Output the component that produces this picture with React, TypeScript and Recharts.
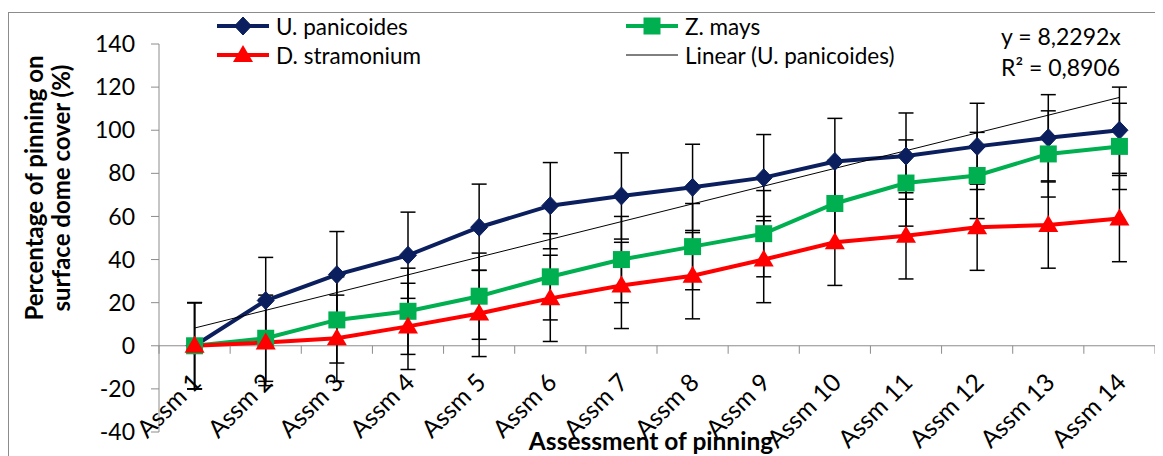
import { ErrorBar, Legend, Line, LineChart, ReferenceLine, XAxis, YAxis } from 'recharts';

const categories = ['Assm 1', 'Assm 2', 'Assm 3', 'Assm 4', 'Assm 5', 'Assm 6', 'Assm 7', 'Assm 8', 'Assm 9', 'Assm 10', 'Assm 11', 'Assm 12', 'Assm 13', 'Assm 14'];
const uPanicoides = [0, 21, 33, 42, 55, 65, 69.5, 73.5, 78, 85.5, 88, 92.5, 96.5, 100];
const zMays = [0, 3.5, 12, 16, 23, 32, 40, 46, 52, 66, 75.5, 79, 89, 92.5];
const dStramonium = [0, 1.5, 3.5, 9, 15, 22, 28, 32.5, 40, 48, 51, 55, 56, 59];
// linear trend of U. panicoides through the origin (y = 8,2292x)
const linearUPan = [8.23, 16.46, 24.69, 32.92, 41.15, 49.38, 57.6, 65.83, 74.06, 82.29, 90.52, 98.75, 106.98, 115.21];
const uPanErr = [20, 20, 20, 20, 20, 20, 20, 20, 20, 20, 20, 20, 20, 20];
const zMaysErr = [20, 20, 20, 20, 20, 20, 20, 20, 20, 20, 20, 20, 20, 20];
const dStramErr = [20, 20, 20, 20, 20, 20, 20, 20, 20, 20, 20, 20, 20, 20];
const yTicks = [-40, -20, 0, 20, 40, 60, 80, 100, 120, 140];
const legendOrder = ['uPan', 'zMays', 'dStram', 'trend'];

const data = categories.map((name, i) => ({
    name,
    uPan: uPanicoides[i],
    zMays: zMays[i],
    dStram: dStramonium[i],
    trend: linearUPan[i],
    uPanErr: uPanErr[i],
    zMaysErr: zMaysErr[i],
    dStramErr: dStramErr[i],
}));

const FONT = 'Lato, "Open Sans", sans-serif';
const NAVY = '#0b1f5e';
const GREEN = '#00b050';
const RED = '#ff0000';
const AXIS = '#8c8c8c';

const W = 1155;
const H = 448;
const M = { top: 36, right: 8, left: 0, bottom: 0 };
const Y_AXIS_W = 151;
const X_AXIS_H = 24;
const PLOT_W = W - M.right - Y_AXIS_W;
const PLOT_H = H - M.top - X_AXIS_H;
const BAND = PLOT_W / categories.length;
const Y_MIN = -40;
const Y_MAX = 140;
const ZERO_UP = (PLOT_H * (0 - Y_MIN)) / (Y_MAX - Y_MIN);

const Diamond = ({ cx, cy, color = NAVY }: any) => (
    <polygon points={`${cx},${cy - 9} ${cx + 8.5},${cy} ${cx},${cy + 9} ${cx - 8.5},${cy}`} fill={color} stroke={color} />
);
const Square = ({ cx, cy, color = GREEN }: any) => <rect x={cx - 8.5} y={cy - 8.5} width={17} height={17} fill={color} />;
const Triangle = ({ cx, cy, color = RED }: any) => (
    <polygon points={`${cx},${cy - 10} ${cx + 10},${cy + 7} ${cx - 10},${cy + 7}`} fill={color} />
);

const XTick = ({ x, y, payload, index }: any) => {
    const y0 = y - ZERO_UP;
    const last = index === categories.length - 1;
    const ax = x + 2;
    const ay = y0 + 32;
    return (
        <g>
            <line x1={x - BAND / 2} x2={x - BAND / 2} y1={y0} y2={y0 + 8} stroke={AXIS} />
            {last && <line x1={x + BAND / 2} x2={x + BAND / 2} y1={y0} y2={y0 + 8} stroke={AXIS} />}
            <text x={ax} y={ay} dy="0.35em" textAnchor="end" transform={`rotate(-45, ${ax}, ${ay})`} fontSize={24.5} fontFamily={FONT} fill="#000">
                {payload.value}
            </text>
        </g>
    );
};

const markers: Record<string, any> = { uPan: Diamond, zMays: Square, dStram: Triangle };

const LegendBox = ({ payload }: any) => {
    const cols = [209, 618];
    const rows = [18, 47];
    const items = [...(payload || [])].sort((a: any, b: any) => legendOrder.indexOf(a.dataKey) - legendOrder.indexOf(b.dataKey));
    return (
        <div style={{ position: 'relative', width: W, height: 70 }}>
            {items.map((entry: any, i: number) => {
                const Marker = markers[entry.dataKey];
                const isTrend = entry.dataKey === 'trend';
                return (
                    <div
                        key={entry.value}
                        style={{
                            position: 'absolute',
                            left: cols[i % 2],
                            top: rows[Math.floor(i / 2)] - 14,
                            height: 28,
                            display: 'flex',
                            alignItems: 'center',
                            whiteSpace: 'nowrap',
                        }}
                    >
                        <svg width={52} height={28} style={{ marginRight: 7 }}>
                            <line x1={0} x2={52} y1={14} y2={14} stroke={entry.color} strokeWidth={isTrend ? 1 : 4} />
                            {Marker && <Marker cx={26} cy={14} color={entry.color} />}
                        </svg>
                        <span style={{ fontFamily: FONT, fontSize: 22.5, color: '#000' }}>{entry.value}</span>
                    </div>
                );
            })}
        </div>
    );
};

const YTitle = () => {
    const cy = 180;
    return (
        <text transform="rotate(-90)" fontFamily={FONT} fontSize={24} fontWeight="bold" textAnchor="middle" fill="#000">
            <tspan x={-cy} y={35}>Percentage of pinning on</tspan>
            <tspan x={-cy} y={62}>surface dome cover (%)</tspan>
        </text>
    );
};

const XTitle = () => (
    <text x={643} y={442} fontFamily={FONT} fontSize={24.5} fontWeight="bold" textAnchor="middle" fill="#000">
        Assessment of pinning
    </text>
);

export default function App() {
    return (
        <div style={{ position: 'relative', width: W, height: H, overflow: 'hidden', background: '#fff' }}>
            <div
                style={{
                    position: 'absolute',
                    left: 0,
                    top: 4,
                    width: W + 20,
                    height: H + 20,
                    border: `1px solid ${AXIS}`,
                    boxSizing: 'border-box',
                }}
            />
            <LineChart width={W} height={H} data={data} margin={M}>
                <XAxis
                    dataKey="name"
                    interval={0}
                    height={X_AXIS_H}
                    padding={{ left: BAND / 2, right: BAND / 2 }}
                    axisLine={false}
                    tickLine={false}
                    tickSize={0}
                    tickMargin={0}
                    tick={<XTick />}
                    label={<XTitle />}
                />
                <YAxis
                    domain={[Y_MIN, Y_MAX]}
                    ticks={yTicks}
                    width={Y_AXIS_W}
                    stroke={AXIS}
                    tickSize={8}
                    tickMargin={16}
                    tick={{ fill: '#000', fontSize: 23, fontFamily: FONT }}
                    label={<YTitle />}
                />
                <ReferenceLine y={0} stroke={AXIS} />
                <Legend layout="vertical" verticalAlign="middle" align="center" wrapperStyle={{ top: 0, left: 0, width: W }} content={<LegendBox />} />
                <Line dataKey="uPan" name="U. panicoides" stroke={NAVY} strokeWidth={4} dot={<Diamond />} isAnimationActive={false}>
                    <ErrorBar dataKey="uPanErr" width={7.5} stroke="#000" strokeWidth={1.5} isAnimationActive={false} />
                </Line>
                <Line dataKey="zMays" name="Z. mays" stroke={GREEN} strokeWidth={4} dot={<Square />} isAnimationActive={false}>
                    <ErrorBar dataKey="zMaysErr" width={7.5} stroke="#000" strokeWidth={1.5} isAnimationActive={false} />
                </Line>
                <Line dataKey="dStram" name="D. stramonium" stroke={RED} strokeWidth={4} dot={<Triangle />} isAnimationActive={false}>
                    <ErrorBar dataKey="dStramErr" width={7.5} stroke="#000" strokeWidth={1.5} isAnimationActive={false} />
                </Line>
                <Line dataKey="trend" name="Linear (U. panicoides)" stroke="#000" strokeWidth={1} dot={false} activeDot={false} isAnimationActive={false} />
            </LineChart>
            <div style={{ position: 'absolute', left: 993, top: 13, fontFamily: FONT, fontSize: 23, lineHeight: '31px', color: '#000' }}>
                <div>y = 8,2292x</div>
                <div>R² = 0,8906</div>
            </div>
        </div>
    );
}
